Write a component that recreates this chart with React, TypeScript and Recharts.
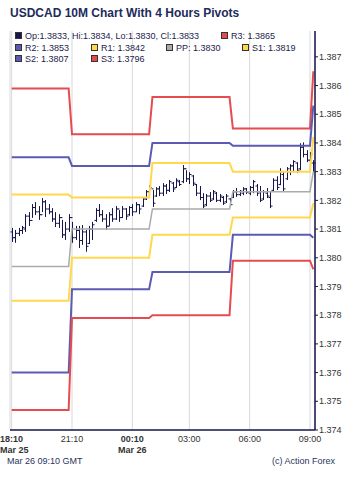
import { ComposedChart, Line, Bar, XAxis, YAxis, CartesianGrid } from "recharts";

// 10 minute bars, 18:10 Mar 25 -> 09:10 Mar 26
const opens = [
  1.3809, 1.3807, 1.38085, 1.38095, 1.381, 1.38145, 1.3813, 1.38175, 1.3816, 1.3815,
  1.38195, 1.3817, 1.3816, 1.38135, 1.3812, 1.3814, 1.3808, 1.381, 1.3814, 1.3807,
  1.38095, 1.3806, 1.3809, 1.3805, 1.381, 1.3813, 1.38165, 1.3815, 1.38135, 1.3811,
  1.3815, 1.38135, 1.3817, 1.3814, 1.3817, 1.3815, 1.38175, 1.3816, 1.38185, 1.3818,
  1.38205, 1.3823, 1.3824, 1.38215, 1.3824, 1.38225, 1.3825, 1.38235, 1.3826, 1.38245,
  1.38265, 1.38265, 1.3831, 1.38275, 1.38285, 1.38255, 1.38225, 1.3821, 1.38185, 1.38215,
  1.38205, 1.38225, 1.382, 1.3821, 1.38195, 1.38205, 1.3821, 1.3823, 1.3822, 1.38225,
  1.3824, 1.38225, 1.38245, 1.3825, 1.3823, 1.38205, 1.38225, 1.3821, 1.38235, 1.3827,
  1.38255, 1.3829, 1.38275, 1.383, 1.3832, 1.3833, 1.3831, 1.38385, 1.3836, 1.3834,
  1.3833,
];
const highs = [
  1.38104, 1.38097, 1.38104, 1.38111, 1.38152, 1.38159, 1.38187, 1.38194, 1.3818, 1.38208,
  1.38201, 1.38187, 1.38173, 1.38159, 1.38152, 1.38132, 1.38125, 1.38152, 1.38125, 1.38111,
  1.38111, 1.38114, 1.38097, 1.38111, 1.38125, 1.38173, 1.38187, 1.38166, 1.38152, 1.38159,
  1.38173, 1.3818, 1.38166, 1.3818, 1.38173, 1.3818, 1.38187, 1.38194, 1.38187, 1.38212,
  1.38236, 1.38253, 1.38236, 1.38246, 1.3825, 1.3826, 1.38257, 1.38271, 1.38264, 1.38277,
  1.38271, 1.38323, 1.38305, 1.38298, 1.38288, 1.38257, 1.3825, 1.38225, 1.38222, 1.38229,
  1.38236, 1.38229, 1.38222, 1.38215, 1.38222, 1.38208, 1.38236, 1.38243, 1.38236, 1.38246,
  1.38243, 1.3825, 1.38271, 1.38257, 1.3825, 1.38236, 1.38243, 1.38229, 1.38277, 1.38284,
  1.38312, 1.38298, 1.38316, 1.38326, 1.3834, 1.38333, 1.38399, 1.38402, 1.38375, 1.38368,
  1.3834,
];
const lows = [
  1.38055, 1.38052, 1.38076, 1.38083, 1.3809, 1.38111, 1.38139, 1.38149, 1.38132, 1.38159,
  1.38142, 1.38152, 1.38125, 1.38107, 1.38104, 1.38069, 1.38062, 1.3809, 1.38052, 1.38062,
  1.38034, 1.38045, 1.38021, 1.38048, 1.38062, 1.38125, 1.38142, 1.38125, 1.38097, 1.38111,
  1.38125, 1.38132, 1.38125, 1.38139, 1.38132, 1.38146, 1.38146, 1.38159, 1.38152, 1.38177,
  1.38201, 1.38215, 1.38177, 1.38212, 1.38215, 1.38215, 1.38222, 1.38229, 1.38229, 1.38243,
  1.3825, 1.3826, 1.38264, 1.38257, 1.3825, 1.38215, 1.38201, 1.38173, 1.3818, 1.38194,
  1.38201, 1.38194, 1.38194, 1.38184, 1.38191, 1.3818, 1.38208, 1.38212, 1.38215, 1.38218,
  1.38222, 1.38218, 1.38225, 1.38215, 1.38194, 1.38201, 1.38208, 1.38173, 1.38229, 1.38236,
  1.38253, 1.38229, 1.38271, 1.38288, 1.38298, 1.38295, 1.38305, 1.3835, 1.38333, 1.38326,
  1.383,
];
const closes = [
  1.3807, 1.38085, 1.38095, 1.38105, 1.38145, 1.3813, 1.38175, 1.3816, 1.3815, 1.38195,
  1.3817, 1.3816, 1.38135, 1.3812, 1.3814, 1.3808, 1.381, 1.3814, 1.3807, 1.38095,
  1.3806, 1.3809, 1.3804, 1.381, 1.38115, 1.38165, 1.3815, 1.38135, 1.3811, 1.3815,
  1.38135, 1.3817, 1.3814, 1.3817, 1.38145, 1.38175, 1.3816, 1.38185, 1.3817, 1.38205,
  1.3823, 1.38245, 1.3819, 1.3824, 1.38225, 1.3825, 1.38235, 1.38265, 1.3824, 1.3827,
  1.38255, 1.3831, 1.38275, 1.3829, 1.3826, 1.38225, 1.3821, 1.3818, 1.38215, 1.382,
  1.3823, 1.382, 1.38215, 1.3819, 1.38215, 1.38185, 1.3823, 1.3822, 1.38232, 1.3824,
  1.38228, 1.38245, 1.38265, 1.38225, 1.382, 1.3823, 1.38215, 1.3818, 1.3827, 1.38245,
  1.383, 1.3824, 1.3831, 1.3832, 1.38335, 1.38305, 1.38385, 1.3836, 1.3834, 1.3836,
  1.3833,
];

// 4 hour pivot periods (first bar index of each period)
const periodStart = [0, 18, 42, 66, 90];
const r3 = [1.3859, 1.3843, 1.3856, 1.3845, 1.3865];
const r2 = [1.3835, 1.3832, 1.384, 1.3839, 1.3853];
const r1 = [1.3822, 1.3821, 1.3833, 1.383, 1.3842];
const pp = [1.3797, 1.381, 1.3817, 1.3823, 1.383];
const s1 = [1.3785, 1.38, 1.3808, 1.3814, 1.3819];
const s2 = [1.376, 1.3789, 1.3795, 1.3808, 1.3807];
const s3 = [1.3747, 1.3779, 1.378, 1.3799, 1.3796];

const tickIdx = [0, 18, 36, 53, 71, 89];
const tickTimes = ["18:10", "21:10", "00:10", "03:00", "06:00", "09:00"];
const tickDates = ["Mar 25", "", "Mar 26", "", "", ""];
const yTicks = [
  1.374, 1.375, 1.376, 1.377, 1.378, 1.379, 1.38, 1.381, 1.382, 1.383, 1.384, 1.385, 1.386, 1.387,
];

const RED = "#e54b4f";
const BLUE = "#5b5bb3";
const YELLOW = "#ffd84c";
const GRAY = "#ababab";
const NAVY = "#16164a";
const FONT = "'Liberation Sans', Arial, sans-serif";

const periodOf = (i: number) => {
  let p = 0;
  periodStart.forEach((s, k) => {
    if (i >= s) p = k;
  });
  return p;
};

const data = opens.map((o, i) => {
  const p = periodOf(i);
  return {
    i,
    open: o,
    hi: highs[i],
    lo: lows[i],
    close: closes[i],
    r3: r3[p],
    r2: r2[p],
    r1: r1[p],
    pp: pp[p],
    s1: s1[p],
    s2: s2[p],
    s3: s3[p],
  };
});

const last = data.length - 1;
const pivotSeries = [
  { key: "r3", name: "R3", color: RED },
  { key: "r2", name: "R2", color: BLUE },
  { key: "r1", name: "R1", color: YELLOW },
  { key: "pp", name: "PP", color: GRAY },
  { key: "s1", name: "S1", color: YELLOW },
  { key: "s2", name: "S2", color: BLUE },
  { key: "s3", name: "S3", color: RED },
];
// legend slot for each pivot: [left, row]
const legendPos: Record<string, [number, number]> = {
  r3: [221, 0],
  r2: [15, 1],
  r1: [91, 1],
  pp: [166, 1],
  s1: [242, 1],
  s2: [15, 2],
  s3: [91, 2],
};
const rowY = [36, 47.5, 59];

function OhlcBar(props: any) {
  const { x, y, width, height, payload } = props;
  if (x == null || y == null) return null;
  const top = Math.min(y, y + height);
  const h = Math.abs(height);
  const span = payload.hi - payload.lo || 1;
  const cx = Math.round(x + width / 2) + 0.5;
  const oy = top + ((payload.hi - payload.open) / span) * h;
  const cy = top + ((payload.hi - payload.close) / span) * h;
  return (
    <g stroke={NAVY} strokeWidth={1}>
      <line x1={cx} x2={cx} y1={top} y2={top + h} />
      <line x1={cx - 2} x2={cx} y1={oy} y2={oy} />
      <line x1={cx} x2={cx + 2} y1={cy} y2={cy} />
    </g>
  );
}

function TimeTick(props: any) {
  const { x, y, payload } = props;
  const k = tickIdx.indexOf(payload.value);
  if (k < 0) return null;
  const bold = tickDates[k] !== "";
  // first label sits against the left edge
  const tx = k === 0 ? 0 : x;
  const anchor = k === 0 ? "start" : "middle";
  return (
    <g fontFamily={FONT} fontSize={9} fill="#333" fontWeight={bold ? 700 : 400}>
      <text x={tx} y={y} dy={12} textAnchor={anchor}>
        {tickTimes[k]}
      </text>
      {bold && (
        <text x={tx} y={y} dy={23} textAnchor={anchor}>
          {tickDates[k]}
        </text>
      )}
    </g>
  );
}

function Swatch({ color }: { color: string }) {
  return (
    <span
      style={{
        display: "inline-block",
        width: 5,
        height: 5,
        background: color,
        border: "1px solid #333",
        marginRight: 3,
        verticalAlign: "0px",
      }}
    />
  );
}

export default function App() {
  const lb = data[last];
  return (
    <div
      style={{
        position: "absolute",
        left: 0,
        top: 0,
        width: 350,
        height: 481,
        background: "#fff",
        fontFamily: FONT,
      }}
    >
      <div
        style={{
          position: "absolute",
          left: 10,
          top: 6,
          fontSize: 12,
          fontWeight: 700,
          color: "#1d2b5c",
          whiteSpace: "nowrap",
        }}
      >
        USDCAD 10M Chart With 4 Hours Pivots
      </div>

      <ComposedChart
        width={350}
        height={481}
        data={data}
        margin={{ top: 31, right: 0, left: 10, bottom: 0 }}
        style={{ position: "absolute", left: 0, top: 0 }}
      >
        <CartesianGrid horizontal={false} stroke="#d9d9de" strokeWidth={1} />
        <XAxis
          dataKey="i"
          type="category"
          ticks={tickIdx}
          interval={0}
          height={51}
          tick={<TimeTick />}
          tickLine={false}
          tickSize={0}
          tickMargin={0}
          axisLine={{ stroke: NAVY, strokeWidth: 1.5 }}
        />
        <XAxis
          xAxisId="frameTop"
          dataKey="i"
          orientation="top"
          height={0}
          tick={false}
          tickLine={false}
          axisLine={{ stroke: NAVY, strokeWidth: 1.5 }}
        />
        <YAxis
          orientation="right"
          domain={[1.374, 1.3879]}
          ticks={yTicks}
          allowDataOverflow
          width={35}
          tickSize={3}
          tickMargin={1}
          tickFormatter={(v: number) => v.toFixed(3)}
          tick={{ fontSize: 9, fill: "#333", fontFamily: FONT, textAnchor: "start" }}
          tickLine={{ stroke: NAVY }}
          axisLine={{ stroke: NAVY, strokeWidth: 1.5 }}
        />
        <YAxis
          yAxisId="frameLeft"
          orientation="left"
          width={0}
          domain={[1.374, 1.3879]}
          tick={false}
          tickLine={false}
          axisLine={{ stroke: NAVY, strokeWidth: 1.5 }}
        />
        {pivotSeries.map((s) => (
          <Line
            key={s.key}
            dataKey={s.key}
            type="linear"
            stroke={s.color}
            strokeWidth={s.key === "pp" ? 1.5 : 2}
            dot={false}
            activeDot={false}
            isAnimationActive={false}
          />
        ))}
        <Bar
          dataKey={(d: any) => [d.lo, d.hi]}
          shape={<OhlcBar />}
          isAnimationActive={false}
        />
      </ComposedChart>

      {/* legend */}
      <div
        style={{
          position: "absolute",
          left: 15,
          top: rowY[0] - 6,
          fontSize: 9,
          lineHeight: "12px",
          color: "#1c1c4c",
          whiteSpace: "nowrap",
        }}
      >
        <Swatch color={NAVY} />
        {`Op:${lb.open.toFixed(4)}, Hi:${lb.hi.toFixed(4)}, Lo:${lb.lo.toFixed(4)}, Cl:${lb.close.toFixed(4)}`}
      </div>
      {pivotSeries.map((s) => {
        const [lx, row] = legendPos[s.key];
        return (
          <div
            key={s.key}
            style={{
              position: "absolute",
              left: lx,
              top: rowY[row] - 6,
              fontSize: 9,
              lineHeight: "12px",
              color: "#1c1c4c",
              whiteSpace: "nowrap",
            }}
          >
            <Swatch color={s.color} />
            {`${s.name}: ${(lb as any)[s.key].toFixed(4)}`}
          </div>
        );
      })}

      <div
        style={{
          position: "absolute",
          left: 7,
          top: 456,
          fontSize: 9,
          color: "#2a3560",
        }}
      >
        Mar 26 09:10 GMT
      </div>
      <div
        style={{
          position: "absolute",
          right: 15,
          top: 456,
          fontSize: 9,
          color: "#2a3560",
        }}
      >
        (c) Action Forex
      </div>
    </div>
  );
}
